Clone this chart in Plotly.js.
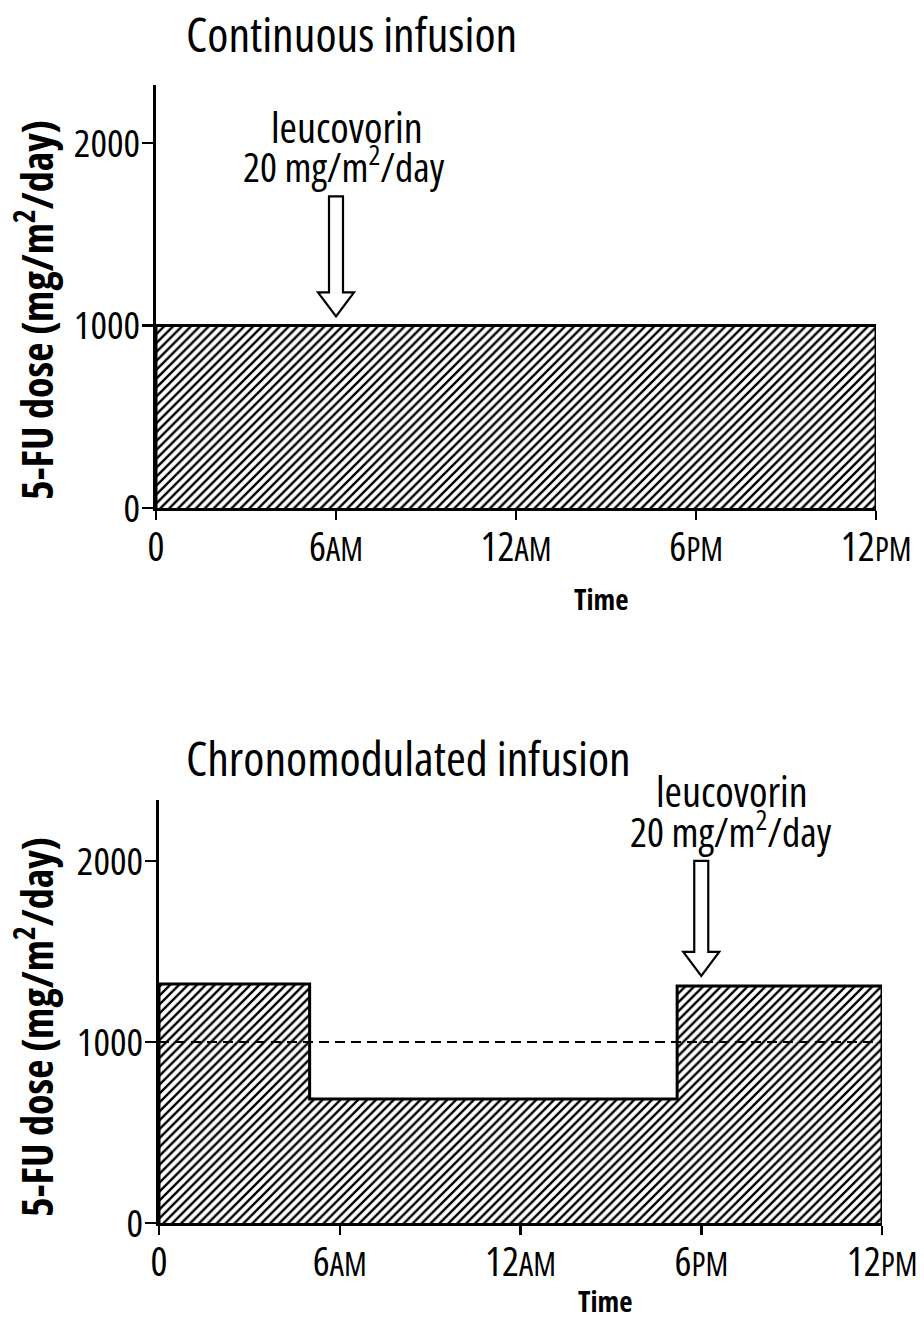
<!DOCTYPE html>
<html>
<head>
<meta charset="utf-8">
<script src="https://cdn.plot.ly/plotly-3.0.1.min.js"></script>
<style>
html,body{margin:0;padding:0;background:#fff;}
#chart{width:924px;height:1321px;}
svg text{font-stretch:75% !important;}
</style>
</head>
<body>
<div id="chart"></div>
<script>
// ---- data ----
var contTimes = [0, 24];            // hours
var contDose = [1000, 1000];        // mg/m2/day
var chronoTimes = [0, 5, 17.2, 24]; // hours
var chronoDose = [1320, 685, 1310, 1310];
var meanDose = [1000, 1000];
var tickHours = [0, 6, 12, 18, 24];
var tickNum = ['0', '6', '12', '6', '12'];
var tickSuffix = ['', 'AM', 'AM', 'PM', 'PM'];
var doseTicks = [0, 1000, 2000];
var arrowHours = [6, 18];
var arrowTipDose = [1050, 1365];
var panelTitles = ['Continuous infusion', 'Chronomodulated infusion'];
var yTitle = '5-FU dose (mg/m<sup>2</sup>/day)';
var xTitle = 'Time';
var arrowLabel1 = 'leucovorin';
var arrowLabel2 = '20 mg/m<sup>2</sup>/day';

// ---- helpers ----
var W = 924, H = 1321;
function px(x) { return x / W; }
function py(y) { return 1 - y / H; }
var FONT = 'Open Sans, Roboto, sans-serif';

function stepTrace(times, dose, xa, ya) {
  var x = [times[0]], y = [0];
  for (var i = 0; i < dose.length; i++) { x.push(times[i]); y.push(dose[i]); }
  x.push(times[times.length - 1]); y.push(0);
  return {
    x: x, y: y, xaxis: xa, yaxis: ya, type: 'scatter', mode: 'lines',
    line: {shape: 'hv', color: 'black', width: 3},
    fill: 'tozeroy', fillcolor: 'white',
    fillpattern: {shape: '/', fgcolor: 'black', bgcolor: 'white', size: 6.3, solidity: 0.38},
    hoverinfo: 'skip', showlegend: false
  };
}

var ticktext = tickNum.map(function (n, i) {
  return tickSuffix[i] ? n + "<span style='font-size:32px'>" + tickSuffix[i] + "</span>" : n;
});

var traces = [
  stepTrace(contTimes, contDose, 'x', 'y'),
  stepTrace(chronoTimes, chronoDose, 'x2', 'y2'),
  {x: [chronoTimes[0], chronoTimes[chronoTimes.length - 1]], y: meanDose, xaxis: 'x2', yaxis: 'y2',
   type: 'scatter', mode: 'lines', line: {color: 'black', width: 2, dash: '10px,6px'},
   hoverinfo: 'skip', showlegend: false}
];

function xAxis(domain, anchor) {
  return {
    domain: domain, anchor: anchor, range: [0, 24], fixedrange: true,
    showgrid: false, zeroline: false, showline: true, linecolor: 'black', linewidth: 3,
    ticks: 'outside', ticklen: 9, tickwidth: 2.5, tickcolor: 'black',
    tickvals: tickHours, ticktext: ticktext, ticklabelstandoff: -7,
    tickfont: {family: FONT, size: 40, color: 'black'}, automargin: false
  };
}
function yAxis(domain, anchor, top) {
  return {
    domain: domain, anchor: anchor, range: [0, top], fixedrange: true,
    showgrid: false, zeroline: false, showline: true, linecolor: 'black', linewidth: 3,
    ticks: 'outside', ticklen: 11, tickwidth: 2.5, tickcolor: 'black',
    tickvals: doseTicks, ticktext: doseTicks.map(String), ticklabelstandoff: -6,
    tickfont: {family: FONT, size: 39, color: 'black'}, automargin: false
  };
}

function arrowShape(xa, ya, hx, tip, shaftLen) {
  var hw = 18, hh = 24, sw = 7, L = hh + shaftLen;
  return {
    type: 'path', xref: xa, yref: ya, xsizemode: 'pixel', ysizemode: 'pixel',
    xanchor: hx, yanchor: tip,
    path: 'M0,0 L' + (-hw) + ',' + hh + ' L' + (-sw) + ',' + hh + ' L' + (-sw) + ',' + L +
          ' L' + sw + ',' + L + ' L' + sw + ',' + hh + ' L' + hw + ',' + hh + ' Z',
    line: {color: 'black', width: 2.2}, fillcolor: 'white', layer: 'above'
  };
}

function ann(text, x, y, size, opts) {
  var a = {text: text, x: x, y: y, xref: 'paper', yref: 'paper', showarrow: false,
           xanchor: 'center', yanchor: 'middle',
           font: {family: FONT, size: size, color: 'black'}};
  for (var k in opts) a[k] = opts[k];
  return a;
}

var annotations = [
  ann(panelTitles[0], px(184), py(33), 48, {xanchor: 'left'}),
  ann(panelTitles[1], px(184), py(757), 48, {xanchor: 'left'}),
  ann(arrowLabel1, px(347), py(127), 42),
  ann(arrowLabel2, px(344), py(164), 40),
  ann(arrowLabel1, px(732), py(790), 42),
  ann(arrowLabel2, px(731), py(829), 40),
  ann('<b>' + xTitle + '</b>', px(601), py(598), 29),
  ann('<b>' + xTitle + '</b>', px(605), py(1300), 29),
  ann('<b>' + yTitle + '</b>', px(34), py(310), 42, {textangle: -90}),
  ann('<b>' + yTitle + '</b>', px(34), py(1027), 42, {textangle: -90})
];

var layout = {
  width: W, height: H, margin: {l: 0, r: 0, t: 0, b: 0},
  paper_bgcolor: 'white', plot_bgcolor: 'white', showlegend: false,
  xaxis: xAxis([px(156), px(876)], 'y'),
  yaxis: yAxis([py(508), py(85)], 'x', 2318),
  xaxis2: xAxis([px(159), px(882)], 'y2'),
  yaxis2: yAxis([py(1223), py(800)], 'x2', 2337),
  shapes: [
    arrowShape('x', 'y', arrowHours[0], arrowTipDose[0], 96),
    arrowShape('x2', 'y2', arrowHours[1], arrowTipDose[1], 91)
  ],
  annotations: annotations
};

Plotly.newPlot('chart', traces, layout, {staticPlot: true, displayModeBar: false});
</script>
</body>
</html>
